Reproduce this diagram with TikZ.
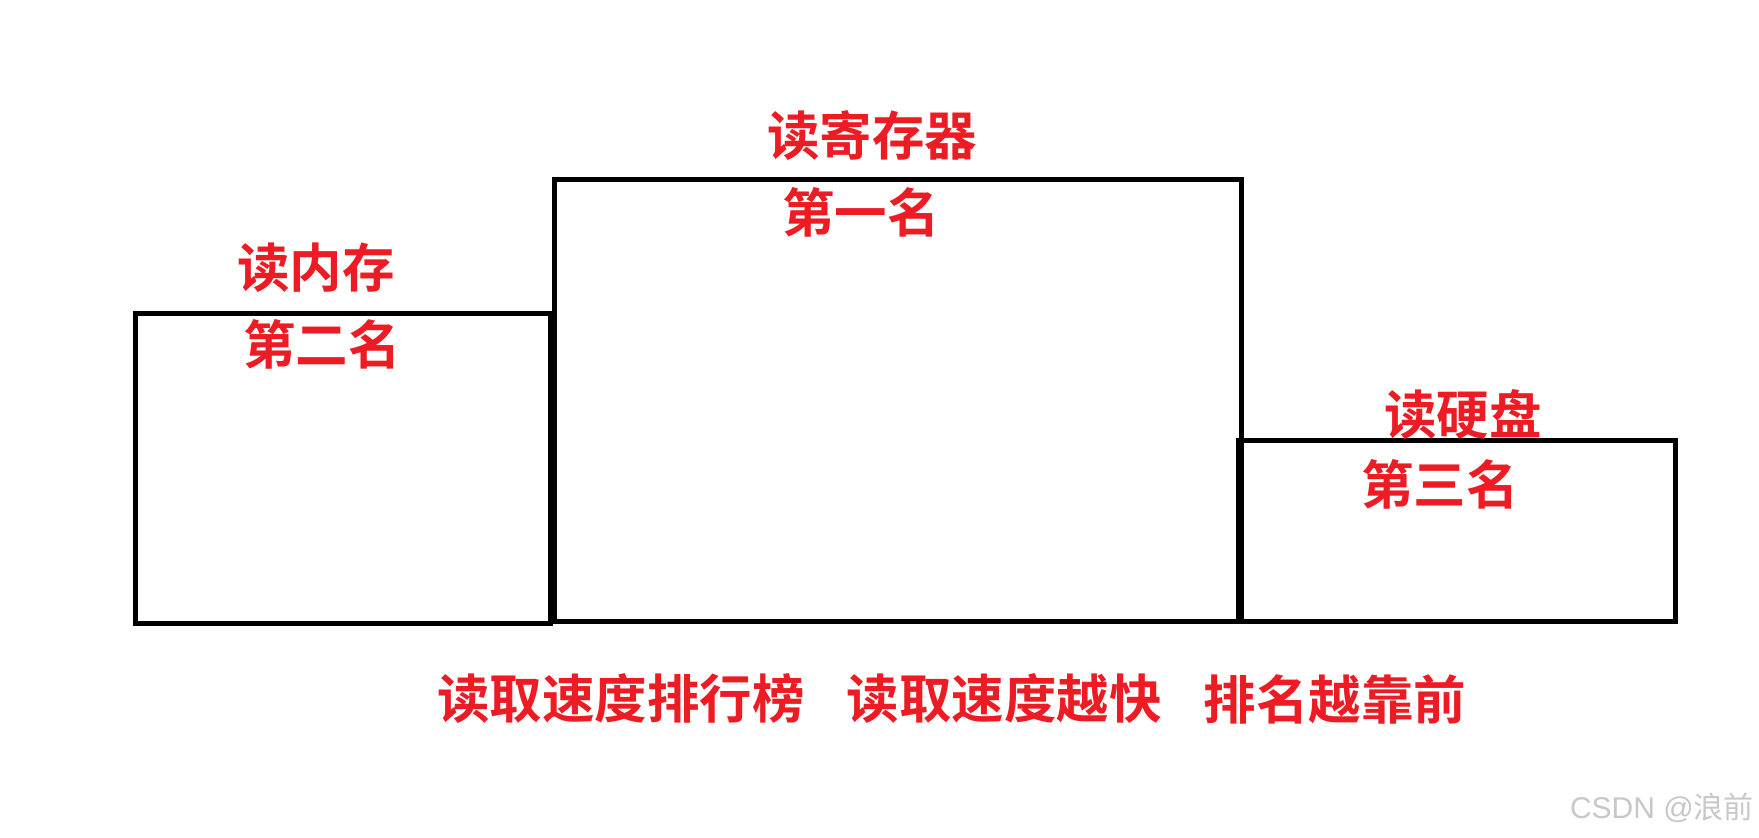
\documentclass[tikz,border=0pt]{standalone}
\usepackage{fontspec}
\newfontfamily\cjk{Noto Sans CJK SC Bold}
\newfontfamily\cjkr{Noto Sans CJK SC}
\newfontfamily\wmlatin{Liberation Sans}
\definecolor{rankred}{RGB}{237,28,36}
\definecolor{wmgray}{RGB}{200,200,200}
\begin{document}
\begin{tikzpicture}[x=1pt,y=-1pt,
  box/.style={draw=black,line width=5pt,inner sep=0pt,fill=none},
  lbl/.style={text=rankred,inner sep=0pt,font=\cjk\fontsize{52.5}{60}\selectfont},
  wm/.style={text=wmgray,inner sep=0pt,font=\cjkr\fontsize{30}{36}\selectfont}]
\useasboundingbox (0,0) rectangle (1759,838);
\fill[white] (0,0) rectangle (1759,838);
\node[box,minimum width=415pt,minimum height=309.5pt] (mem) at (343,468.25) {};
\node[box,minimum width=687pt,minimum height=441.5pt] (reg) at (897.5,400.25) {};
\node[box,minimum width=437pt,minimum height=181pt] (disk) at (1456.5,531) {};
\node[lbl] (tmem) at (316,268) {读内存};
\node[lbl] (rmem) at (322,344) {第二名};
\node[lbl] (treg) at (872,136) {读寄存器};
\node[lbl] (rreg) at (861,212) {第一名};
\node[lbl] (tdisk) at (1463,414) {读硬盘};
\node[lbl] (rdisk) at (1440,484) {第三名};
\node[lbl] (b1) at (621,699) {读取速度排行榜};
\node[lbl] (b2) at (1004,699) {读取速度越快};
\node[lbl] (b3) at (1335,699) {排名越靠前};
\node[wm,anchor=east] (wmark) at (1754,808) {{\wmlatin CSDN @}浪前};
\end{tikzpicture}
\end{document}
